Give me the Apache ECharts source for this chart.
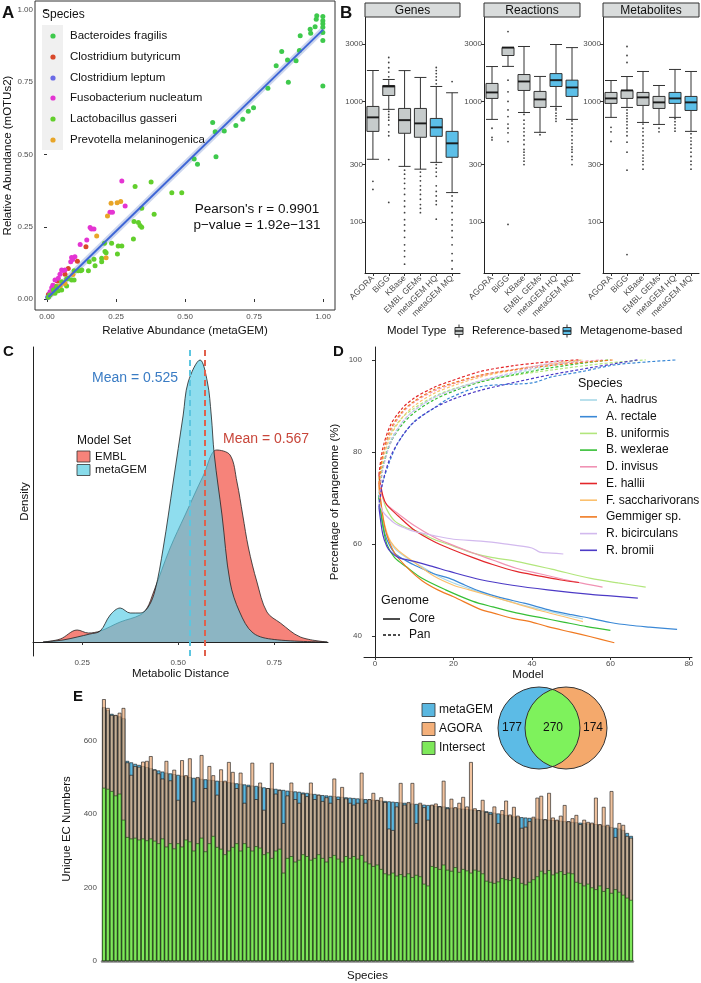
<!DOCTYPE html>
<html><head><meta charset="utf-8">
<script src="https://cdn.jsdelivr.net/npm/echarts@6/dist/echarts.min.js"></script>
<style>html,body{margin:0;padding:0;background:#fff}#c{width:701px;height:983px}</style>
</head><body><div id="c"></div><script>
const FF = "'Liberation Sans', Arial, Helvetica, sans-serif";

// ---------- Panel A data ----------
const speciesA = ['Bacteroides fragilis','Clostridium butyricum','Clostridium leptum','Fusobacterium nucleatum','Lactobacillus gasseri','Prevotella melaninogenica'];
const colorsA = ['#3ec94c','#d8482a','#6a6ae6','#e434d2','#62cf2c','#e8a528'];
const ptsFragilis = [[0.977,0.980],[0.999,0.977],[0.999,0.963],[0.999,0.952],[0.999,0.940],[0.975,0.968],[0.971,0.942],[0.953,0.933],[0.955,0.919],[0.999,0.922],[0.999,0.894],[0.917,0.911],[0.999,0.737],[0.850,0.856],[0.830,0.807],[0.871,0.827],[0.902,0.824],[0.914,0.860],[0.874,0.750],[0.800,0.729],[0.748,0.662],[0.729,0.650],[0.709,0.622],[0.684,0.600],[0.642,0.581],[0.609,0.579],[0.600,0.611],[0.533,0.484],[0.545,0.466],[0.612,0.492]];
const ptsButyricum = [[0.141,0.181],[0.110,0.131],[0.077,0.106],[0.065,0.086],[0.037,0.062],[0.025,0.045],[0.017,0.020],[0.005,0.016]];
const ptsLeptum = [[0.005,0.008],[0.011,0.020],[0.002,0.006],[0.023,0.023],[0.035,0.033]];
const ptsNucleatum = [[0.271,0.408],[0.283,0.322],[0.228,0.300],[0.237,0.300],[0.156,0.247],[0.161,0.242],[0.170,0.242],[0.144,0.204],[0.120,0.189],[0.089,0.144],[0.093,0.137],[0.101,0.146],[0.086,0.129],[0.053,0.100],[0.058,0.099],[0.065,0.100],[0.047,0.086],[0.041,0.072],[0.029,0.066],[0.021,0.048],[0.017,0.039],[0.011,0.025]];
const ptsGasseri = [[0.377,0.405],[0.319,0.389],[0.452,0.368],[0.488,0.368],[0.343,0.314],[0.388,0.293],[0.315,0.268],[0.331,0.265],[0.337,0.254],[0.343,0.248],[0.313,0.208],[0.271,0.183],[0.258,0.183],[0.255,0.156],[0.208,0.193],[0.234,0.193],[0.210,0.164],[0.214,0.160],[0.198,0.141],[0.198,0.129],[0.174,0.115],[0.150,0.098],[0.170,0.138],[0.122,0.098],[0.153,0.129],[0.098,0.098],[0.071,0.069],[0.089,0.066],[0.076,0.072],[0.053,0.060],[0.035,0.043],[0.023,0.031],[0.011,0.014],[0.005,0.006],[0.041,0.029],[0.029,0.020],[0.113,0.098],[0.098,0.066],[0.071,0.045],[0.053,0.031],[0.126,0.100]];
const ptsMelaninogenica = [[0.232,0.331],[0.219,0.287],[0.180,0.218],[0.214,0.143],[0.267,0.337],[0.254,0.333],[0.065,0.054],[0.048,0.046],[0.094,0.085]];
const fitLine = [[0.005,0.007],[1.0,0.932]];
const ticksA = [0, 0.25, 0.5, 0.75, 1];

// ---------- Panel B data ----------
const bCats = ['AGORA','BiGG','KBase','EMBL GEMs','metaGEM HQ','metaGEM MQ'];
const bTypes = ['ref','ref','ref','ref','meta','meta'];
const bTicks = [100, 300, 1000, 3000];
const genesBox = [[332,565,738,909,1803],[860,1120,1330,1355,1520],[290,545,700,875,1800],[275,505,658,875,1580],[313,514,610,723,1330],[176,345,450,565,1180]];
const genesOut = [[218,187],[1600,1750,1900,2100,2310,827,780,740,700,640,560,520,330,146],[270,250,230,210,190,170,150,135,120,105,95,85,75,65,58,52,45],[260,240,220,200,185,170,155,140,130,120],[1400,1500,1600,1700,1800,1910,300,280,260,240,200,180,165,150,140,106],[1460,165,150,135,120,105,95,85,75,65,55,48,41]];
const reactionsBox = [[710,1059,1187,1409,1945],[1950,2400,2790,2794,2800],[810,1233,1463,1670,2850],[555,892,1039,1210,1610],[909,1330,1500,1700,2960],[710,1100,1305,1500,2790]];
const reactionsOut = [[600,504,480],[3790,1500,1200,1000,850,750,650,600,550,465,96],[780,700,650,600,560,520,480,440,400,380,360,340,320,300],[530],[880,850,800,760,720,684],[690,650,600,560,520,480,450,420,400,380,350,330,300]];
const metabolitesBox = [[738,963,1059,1187,1490],[892,1059,1233,1233,1608],[670,927,1080,1187,1770],[645,875,982,1100,1355],[738,963,1059,1187,1840],[565,842,982,1100,1770]];
const metabolitesOut = [[610,560,467],[2100,2400,2850,850,800,760,720,680,640,600,560,520,460,380,270,54],[650,600,560,520,480,450,420,390,360,340,320,300,275],[600,560],[720,680,640,600,567],[540,500,470,440,410,380,350,320,300,275]];
const facetNames = ['Genes','Reactions','Metabolites'];

// ---------- Panel C data ----------
const densMetaGEM = [[0.148,0],[0.2,0.04],[0.237,0.1],[0.27,0.16],[0.297,0.22],[0.323,0.54],[0.349,0.68],[0.375,0.58],[0.401,0.58],[0.422,0.7],[0.44,1.04],[0.461,1.88],[0.487,3.2],[0.513,4.54],[0.526,5.2],[0.557,5.64],[0.576,5.2],[0.586,4.54],[0.594,3.74],[0.614,2.54],[0.635,1.2],[0.66,0.6],[0.695,0.18],[0.75,0.05],[0.888,0]];
const densEMBL = [[0.148,0],[0.193,0.06],[0.237,0.24],[0.266,0.18],[0.297,0.22],[0.349,0.4],[0.401,0.54],[0.419,0.68],[0.435,0.98],[0.479,1.88],[0.518,2.54],[0.566,3.34],[0.60,3.84],[0.635,3.74],[0.653,3.2],[0.668,2.54],[0.683,1.88],[0.705,1.2],[0.731,0.6],[0.766,0.38],[0.818,0.1],[0.888,0]];
const meanMetaGEM = 0.525, meanEMBL = 0.567;
const ticksC = [0.25, 0.5, 0.75];

// ---------- Panel D data ----------
const speciesD = ['A. hadrus','A. rectale','B. uniformis','B. wexlerae','D. invisus','E. hallii','F. saccharivorans','Gemmiger sp.','R. bicirculans','R. bromii'];
const colorsD = ['#a8d8e8','#3a88d6','#b2e67c','#36bf36','#f092b4','#e3262a','#fbc06e','#f07a22','#d2b9ee','#4c3ac6'];
const coreD = [
 [[1,71],[2,65],[3,62],[5,59],[8,57],[12,55],[16,53],[20,51.5],[25,50],[30,48.5],[35,47.3],[40,46.2],[45,45.2],[50,44.2],[53,43.7]],
 [[1,70],[2,64],[3,61],[5,58],[8,56.3],[10,55.4],[15,53.5],[19,52.5],[23,51],[27,49.6],[32,48.3],[38,47.1],[45,45.5],[50,44.6],[55,43.8],[60,42.9],[65,42.3],[70,41.9],[77,41.4]],
 [[1,74],[2,70],[3,67.5],[5,65],[8,63.5],[10,63],[15,61],[20,59.5],[25,58],[30,57],[36,56.2],[45,54.5],[55,52.5],[62,51.5],[69,50.6]],
 [[1,70],[2,64],[3,60],[5,57],[8,55],[12,52.5],[18,50],[25,47.5],[30,46.3],[36,45],[42,44],[48,43],[54,42],[60,41.2]],
 [[1,73],[2,70],[3,68.5],[6,66.5],[10,64],[15,61.5],[19,60],[25,58],[30,56.5],[36,54.7],[42,53.5],[48,52.3],[53,51.4],[58,50.6]],
 [[1,75],[2,70.5],[3,68.5],[6,66],[10,63],[15,60.5],[19,59],[25,57],[30,55.5],[36,54],[42,53],[47,52.2],[52,51.6]],
 [[1,72],[2,66],[3,62.5],[4,60.5],[6,58.5],[10,56],[15,53],[20,51],[24,50],[30,48.5],[36,47],[42,45.5],[48,44.2],[53,43.1]],
 [[1,73],[2,66],[3,62],[5,58],[8,55],[12,52],[16,50],[20,48.5],[27,45.7],[30,45],[35,43.8],[40,43],[44,42],[50,40.8],[55,39.8],[61,38.5]],
 [[1,69],[2,67],[3,66],[5,64.5],[8,63.3],[10,62.7],[15,61.8],[20,61],[27,60.6],[33,60],[40,59.1],[42,58.2],[45,58],[48,57.8]],
 [[1,68],[2,62],[3,59.5],[4,58.3],[6,57],[10,56.2],[15,55],[19,54],[27,52.2],[35,51],[44,50],[55,49],[60,48.7],[67,48.2]]
];
const panD = [
 [[1,71],[2,77],[4,82.5],[7,86.5],[10,89],[15,91.8],[20,93.6],[27,95.5],[35,97],[45,98.8],[53,100]],
 [[1,70],[2,73.5],[4,78.5],[6,82.2],[10,86.6],[15,89.5],[19,91.7],[27,94.2],[40,95],[45,96.3],[53,97.5],[61,98.9],[70,99.6],[77,100]],
 [[1,74],[2,79],[4,84],[7,87.5],[10,89.5],[15,92],[20,93.7],[27,95.3],[35,96.6],[45,97.8],[55,98.9],[63,99.6],[69,100]],
 [[1,70],[2,76.5],[4,82],[7,86],[10,88.5],[15,91.3],[20,93.2],[27,95.2],[35,96.7],[45,98.3],[53,99.3],[60,100]],
 [[1,73],[2,79],[4,84.5],[7,88.5],[10,90.8],[15,93.2],[20,94.8],[27,96.6],[35,97.9],[45,99.1],[52,99.6],[58,100]],
 [[1,75],[2,80.8],[4,85.9],[7,89.5],[10,91.7],[15,94],[19,95.3],[27,97.5],[35,98.7],[42,99.4],[48,99.8],[52,100]],
 [[1,72],[2,78],[4,83.5],[7,87.5],[10,90],[15,92.7],[20,94.4],[27,96.3],[35,97.7],[45,99.2],[53,100]],
 [[1,73],[2,79.5],[4,85],[7,88.8],[10,91],[15,93.5],[20,95],[27,96.7],[35,97.8],[45,98.8],[55,99.6],[61,100]],
 [[1,69],[2,76],[4,82],[7,86.5],[10,89],[15,91.8],[20,93.5],[27,95.5],[35,97.2],[42,98.8],[48,100]],
 [[1,68],[2,73.5],[4,79],[7,83.5],[10,86.5],[15,89.5],[20,91.5],[27,93.4],[35,95],[45,96.8],[55,98.3],[62,99.3],[67,100]]
];
const ticksDx = [0, 20, 40, 60, 80];
const ticksDy = [40, 60, 80, 100];

// ---------- Panel E data ----------
const metaGEM = [690,682,672,668,665,660,
 544,540,536,533,530,527,524,521,518,515,
 512,510,508,506,504,502,500,498,497,495,
 494,493,492,490,489,487,486,485,483,482,
 480,479,477,476,474,472,470,469,468,466,
 465,463,462,461,460,458,457,455,454,452,
 451,450,449,448,447,446,445,444,443,442,
 441,440,439,438,437,436,435,434,433,432,
 431,430,429,428,427,426,425,424,423,422,
 421,420,418,417,416,415,414,413,412,411,
 410,409,407,405,403,401,399,397,395,393,
 392,391,390,389,388,387,386,385,384,383,
 382,381,380,379,378,377,376,375,374,373,
 372,370,368,366,364,362,360,356,348,340];
const agora = [712,688,669,669,675,688,
 540,506,530,528,542,544,557,520,510,496,
 544,491,520,438,546,505,551,434,500,560,
 470,530,505,452,521,490,541,514,470,512,
 430,475,539,440,485,411,470,539,455,465,
 375,450,485,440,430,455,448,485,440,452,
 435,445,430,496,440,473,442,430,425,430,
 512,430,440,457,438,445,432,360,356,420,
 484,425,432,484,375,430,418,384,425,428,
 420,490,415,441,418,430,446,420,541,415,
 410,438,405,400,420,375,410,436,398,419,
 395,362,365,380,392,444,449,385,457,390,
 384,395,424,380,388,397,372,384,378,376,
 444,372,419,370,462,337,375,370,340,335];
const intersect = [471,468,462,450,455,384,
 337,333,335,330,333,328,333,327,320,333,
 311,320,306,320,311,330,325,300,320,335,
 298,320,340,310,305,290,300,310,320,300,
 320,310,300,312,308,290,295,280,300,305,
 240,280,285,270,275,290,285,275,280,290,
 280,270,282,288,278,270,285,280,285,278,
 288,270,265,258,262,250,238,235,240,232,
 236,230,238,228,234,230,210,205,258,255,
 250,262,248,245,255,242,250,246,240,248,
 245,238,218,215,212,216,225,222,220,228,
 225,212,208,215,222,230,245,238,247,235,
 240,244,236,240,238,215,212,205,210,200,
 195,205,190,198,185,195,188,180,172,166];
const speciesE = metaGEM.map((_, i) => 'Species ' + (i + 1));
const ticksE = [0, 200, 400, 600];
const vennCounts = [177, 270, 174];

// ---------- helpers ----------
const tickLbl = {fontSize: 8, color: '#4d4d4d', fontFamily: FF};
function T(x, y, text, o) {
  o = o || {};
  return {type: 'text', x: x, y: y, rotation: o.rot || 0, z: 100,
    style: {text: text, fill: o.color || '#111', fontSize: o.size || 12, fontFamily: FF,
      fontWeight: o.weight || 'normal', align: o.align || 'left', verticalAlign: o.va || 'middle'}};
}
function R(x, y, w, h, fill, stroke, lw) {
  return {type: 'rect', z: 90, shape: {x: x, y: y, width: w, height: h},
    style: {fill: fill, stroke: stroke || null, lineWidth: lw || 1}};
}
function L(x1, y1, x2, y2, stroke, lw, dash) {
  return {type: 'line', z: 95, shape: {x1: x1, y1: y1, x2: x2, y2: y2},
    style: {stroke: stroke, lineWidth: lw || 1, lineDash: dash || null}};
}

const GRAYBOX = '#c6cbcb', BLUEBOX = '#5cbfe8';

// ---------- axes ----------
const xAxes = [], yAxes = [], series = [];
// A
xAxes.push({gridIndex: 0, type: 'value', min: -0.0435, max: 1.043,
  axisLine: {show: false}, splitLine: {show: false},
  axisTick: {show: true, length: 3, lineStyle: {color: '#333'}, customValues: ticksA},
  axisLabel: Object.assign({margin: 3, customValues: ticksA, formatter: v => v.toFixed(2)}, tickLbl),
  name: 'Relative Abundance (metaGEM)', nameLocation: 'middle', nameGap: 15,
  nameTextStyle: {fontSize: 11.5, color: '#111', fontFamily: FF}});
yAxes.push({gridIndex: 0, type: 'value', min: -0.038, max: 1.031,
  axisLine: {show: false}, splitLine: {show: false},
  axisTick: {show: true, length: 3, lineStyle: {color: '#333'}, customValues: ticksA},
  axisLabel: Object.assign({margin: 2, customValues: ticksA, formatter: v => v.toFixed(2)}, tickLbl),
  name: 'Relative Abundance (mOTUs2)', nameLocation: 'middle', nameGap: 21,
  nameTextStyle: {fontSize: 11.5, color: '#111', fontFamily: FF}});
// B facets
const bBoxes = [genesBox, reactionsBox, metabolitesBox];
const bOuts = [genesOut, reactionsOut, metabolitesOut];
const bLogTicks = bTicks.map(v => Math.log10(v));
for (let f = 0; f < 3; f++) {
  const gi = 1 + f;
  xAxes.push({gridIndex: gi, type: 'category', data: bCats,
    axisLine: {show: true, lineStyle: {color: '#222', width: 1}},
    axisTick: {show: true, length: 3, alignWithLabel: true, lineStyle: {color: '#333'}},
    axisLabel: Object.assign({rotate: 45, interval: 0, margin: 4}, tickLbl, {fontSize: 8.5})});
  yAxes.push({gridIndex: gi, type: 'value', min: Math.log10(38), max: Math.log10(5000),
    axisLine: {show: true, lineStyle: {color: '#222', width: 1}}, splitLine: {show: false},
    axisTick: {show: true, length: 3, lineStyle: {color: '#333'}, customValues: bLogTicks},
    axisLabel: Object.assign({margin: 2, customValues: bLogTicks, formatter: v => String(Math.round(Math.pow(10, v)))}, tickLbl)});
  series.push({type: 'boxplot', xAxisIndex: gi, yAxisIndex: gi, boxWidth: [12, 12],
    itemStyle: {borderColor: '#333', borderWidth: 1},
    data: bBoxes[f].map((b, j) => ({value: b.map(v => Math.log10(v)),
      itemStyle: {color: bTypes[j] === 'ref' ? GRAYBOX : BLUEBOX, borderColor: '#333'}}))});
  series.push({type: 'scatter', xAxisIndex: gi, yAxisIndex: gi, symbol: 'rect', symbolSize: [12, 2],
    itemStyle: {color: '#111'}, z: 5,
    data: bBoxes[f].map((b, j) => [j, Math.log10(b[2])])});
  const outs = [];
  bOuts[f].forEach((arr, j) => arr.forEach(v => outs.push([j, Math.log10(v)])));
  series.push({type: 'scatter', xAxisIndex: gi, yAxisIndex: gi, symbolSize: 1.8,
    itemStyle: {color: '#111'}, data: outs});
}
// C
xAxes.push({gridIndex: 4, type: 'value', min: 0.122, max: 0.89,
  axisLine: {show: true, lineStyle: {color: '#222'}}, splitLine: {show: false},
  axisTick: {show: true, length: 3, lineStyle: {color: '#333'}, customValues: ticksC},
  axisLabel: Object.assign({margin: 3, customValues: ticksC, formatter: v => v.toFixed(2)}, tickLbl),
  name: 'Metabolic Distance', nameLocation: 'middle', nameGap: 12,
  nameTextStyle: {fontSize: 11.5, color: '#111', fontFamily: FF}});
yAxes.push({gridIndex: 4, type: 'value', min: -0.28, max: 5.9,
  axisLine: {show: true, lineStyle: {color: '#222'}}, splitLine: {show: false},
  axisTick: {show: false}, axisLabel: {show: false},
  name: 'Density', nameLocation: 'middle', nameGap: 2,
  nameTextStyle: {fontSize: 11.5, color: '#111', fontFamily: FF}});
series.push({type: 'line', xAxisIndex: 4, yAxisIndex: 4, data: densEMBL, smooth: 0.35, showSymbol: false,
  lineStyle: {color: '#222', width: 0.8}, areaStyle: {color: '#f6837a', opacity: 1}, z: 2,
  markLine: {silent: true, symbol: 'none', label: {show: false},
    lineStyle: {type: [6, 4], color: '#e0604c', width: 2}, data: [{xAxis: meanEMBL}]}});
series.push({type: 'line', xAxisIndex: 4, yAxisIndex: 4, data: densMetaGEM, smooth: 0.35, showSymbol: false,
  lineStyle: {color: '#222', width: 0.8}, areaStyle: {color: '#5acde6', opacity: 0.68}, z: 3,
  markLine: {silent: true, symbol: 'none', label: {show: false},
    lineStyle: {type: [6, 4], color: '#5cc6e0', width: 2}, data: [{xAxis: meanMetaGEM}]}});
// D
xAxes.push({gridIndex: 5, type: 'value', min: -2.8, max: 80.8,
  axisLine: {show: true, lineStyle: {color: '#222'}}, splitLine: {show: false},
  axisTick: {show: true, length: 3, lineStyle: {color: '#333'}, customValues: ticksDx},
  axisLabel: Object.assign({margin: 3, customValues: ticksDx}, tickLbl),
  name: 'Model', nameLocation: 'middle', nameGap: 11,
  nameTextStyle: {fontSize: 11.5, color: '#111', fontFamily: FF}});
yAxes.push({gridIndex: 5, type: 'value', min: 35.4, max: 102.8,
  axisLine: {show: true, lineStyle: {color: '#222'}}, splitLine: {show: false},
  axisTick: {show: true, length: 3, lineStyle: {color: '#333'}, customValues: ticksDy},
  axisLabel: Object.assign({margin: 2, customValues: ticksDy}, tickLbl),
  name: 'Percentage of pangenome (%)', nameLocation: 'middle', nameGap: 23,
  nameTextStyle: {fontSize: 11.5, color: '#111', fontFamily: FF}});
for (let i = 0; i < speciesD.length; i++) {
  series.push({type: 'line', xAxisIndex: 5, yAxisIndex: 5, data: coreD[i], smooth: 0.3, showSymbol: false,
    lineStyle: {color: colorsD[i], width: 1.2}});
  series.push({type: 'line', xAxisIndex: 5, yAxisIndex: 5, data: panD[i], smooth: 0.3, showSymbol: false,
    lineStyle: {color: colorsD[i], width: 1.2, type: [3, 2]}});
}
// E
xAxes.push({gridIndex: 6, type: 'category', data: speciesE, offset: 3,
  axisLine: {show: true, lineStyle: {color: '#8a8a8a', width: 2.5}},
  axisTick: {show: false}, axisLabel: {show: false},
  name: 'Species', nameLocation: 'middle', nameGap: 6,
  nameTextStyle: {fontSize: 11.5, color: '#111', fontFamily: FF}});
yAxes.push({gridIndex: 6, type: 'value', min: 0, max: 718,
  axisLine: {show: false}, axisTick: {show: false}, splitLine: {show: false},
  axisLabel: Object.assign({margin: 5, customValues: ticksE}, tickLbl),
  name: 'Unique EC Numbers', nameLocation: 'middle', nameGap: 19,
  nameTextStyle: {fontSize: 11.5, color: '#111', fontFamily: FF}});
const barCommon = {type: 'bar', xAxisIndex: 6, yAxisIndex: 6, barGap: '-100%', barCategoryGap: '6%'};
series.push(Object.assign({}, barCommon, {name: 'metaGEM', data: metaGEM, z: 2,
  itemStyle: {color: '#5ab7e0', borderColor: '#111', borderWidth: 0.6}}));
series.push(Object.assign({}, barCommon, {name: 'AGORA', data: agora, z: 3,
  itemStyle: {color: 'rgba(236,172,122,0.72)', borderColor: '#111', borderWidth: 0.6}}));
series.push(Object.assign({}, barCommon, {name: 'Intersect', data: intersect, z: 4,
  itemStyle: {color: '#7ee85a', borderColor: '#1a3a10', borderWidth: 0.6}}));
// A scatter
const ptsA = [ptsFragilis, ptsButyricum, ptsLeptum, ptsNucleatum, ptsGasseri, ptsMelaninogenica];
series.push({type: 'line', xAxisIndex: 0, yAxisIndex: 0, data: fitLine, showSymbol: false,
  lineStyle: {color: '#b8c4e6', width: 6, opacity: 0.7}, z: 2});
ptsA.forEach((pts, i) => series.push({type: 'scatter', xAxisIndex: 0, yAxisIndex: 0, data: pts,
  symbolSize: 5, itemStyle: {color: colorsA[i], opacity: 1}, z: 3}));
series.push({type: 'line', xAxisIndex: 0, yAxisIndex: 0, data: fitLine, showSymbol: false,
  lineStyle: {color: '#3e66d6', width: 2}, z: 4});

// ---------- graphics ----------
const g = [];
g.push(T(2, 13, 'A', {size: 17, weight: 'bold'}));
g.push(T(340, 13, 'B', {size: 17, weight: 'bold'}));
g.push(T(3, 352, 'C', {size: 15, weight: 'bold'}));
g.push(T(333, 352, 'D', {size: 15, weight: 'bold'}));
g.push(T(73, 697, 'E', {size: 15, weight: 'bold'}));
// A legend
g.push(R(42, 25, 21, 125, '#f0f0f0'));
g.push(T(42, 15, 'Species', {size: 12}));
const legYA = [36, 57, 78, 98, 119, 140];
speciesA.forEach((s, i) => {
  g.push({type: 'circle', z: 95, shape: {cx: 53, cy: legYA[i], r: 2.6}, style: {fill: colorsA[i]}});
  g.push(T(70, legYA[i], s, {size: 11.5}));
});
g.push(T(257, 209, "Pearson's r = 0.9901", {size: 13.5, align: 'center'}));
g.push(T(257, 225, 'p\u2212value = 1.92e\u2212131', {size: 13.5, align: 'center'}));
// B strips
[[365, 95], [484, 96], [603, 96]].forEach((p, f) => {
  g.push(R(p[0], 3, p[1], 14, '#d9dcdc', '#333', 1));
  g.push(T(p[0] + p[1] / 2, 10.5, facetNames[f], {size: 12, align: 'center'}));
});
// B legend
g.push(T(387, 331, 'Model Type', {size: 11.5}));
function boxKey(x, fill) {
  g.push(L(x + 4, 324.5, x + 4, 327.5, '#333', 1));
  g.push(L(x + 4, 334.5, x + 4, 337.5, '#333', 1));
  g.push(R(x, 327.5, 8, 7, fill, '#333', 1));
  g.push(L(x, 331, x + 8, 331, '#111', 1.3));
}
boxKey(455, GRAYBOX);
g.push(T(472, 331, 'Reference-based', {size: 11.5}));
boxKey(563, BLUEBOX);
g.push(T(580, 331, 'Metagenome-based', {size: 11.5}));
// C legend & labels
g.push(T(77, 441, 'Model Set', {size: 12}));
g.push(R(77, 451, 13, 11, '#f6837a', '#333', 0.8));
g.push(T(95, 456.5, 'EMBL', {size: 11.5}));
g.push(R(77, 464.5, 13, 11, '#88dbea', '#333', 0.8));
g.push(T(95, 470, 'metaGEM', {size: 11.5}));
g.push(T(135, 378, 'Mean = 0.525', {size: 14, color: '#3a7cc4', align: 'center'}));
g.push(T(266, 439, 'Mean = 0.567', {size: 14, color: '#c8463a', align: 'center'}));
// D legends
g.push(T(578, 384, 'Species', {size: 12.5}));
speciesD.forEach((s, i) => {
  const y = 400 + i * 16.7;
  g.push(L(580, y, 597, y, colorsD[i], 1.6));
  g.push(T(606, y, s, {size: 12}));
});
g.push(T(381, 601, 'Genome', {size: 12.5}));
g.push(L(383, 619, 400, 619, '#111', 1.5));
g.push(T(409, 619, 'Core', {size: 12}));
g.push(L(383, 635, 400, 635, '#111', 1.5, [3, 2]));
g.push(T(409, 635, 'Pan', {size: 12}));
// E legend
[['metaGEM', '#5ab7e0', 703.5], ['AGORA', '#f4b07a', 722.5], ['Intersect', '#7ee85a', 741.5]].forEach(it => {
  g.push(R(422, it[2], 13, 13, it[1], '#333', 0.8));
  g.push(T(439, it[2] + 6.5, it[0], {size: 12}));
});
// Venn
const vc1 = 539, vc2 = 566, vcy = 728, vr = 41;
g.push({type: 'circle', z: 90, shape: {cx: vc1, cy: vcy, r: vr}, style: {fill: '#5cbbe6'}});
g.push({type: 'circle', z: 90, shape: {cx: vc2, cy: vcy, r: vr}, style: {fill: '#f4a96c'}});
const alpha = Math.acos(((vc2 - vc1) / 2) / vr);
const lens = [];
for (let k = 0; k <= 40; k++) { const t = -alpha + 2 * alpha * k / 40; lens.push([vc1 + vr * Math.cos(t), vcy + vr * Math.sin(t)]); }
for (let k = 0; k <= 40; k++) { const t = Math.PI - alpha + 2 * alpha * k / 40; lens.push([vc2 + vr * Math.cos(t), vcy + vr * Math.sin(t)]); }
g.push({type: 'polygon', z: 91, shape: {points: lens}, style: {fill: '#7ef25c'}});
g.push({type: 'circle', z: 92, shape: {cx: vc1, cy: vcy, r: vr}, style: {fill: null, stroke: '#333', lineWidth: 1}});
g.push({type: 'circle', z: 92, shape: {cx: vc2, cy: vcy, r: vr}, style: {fill: null, stroke: '#333', lineWidth: 1}});
g.push(T(512, vcy, String(vennCounts[0]), {size: 12, align: 'center'}));
g.push(T(553, vcy, String(vennCounts[1]), {size: 12, align: 'center'}));
g.push(T(593, vcy, String(vennCounts[2]), {size: 12, align: 'center'}));

const option = {
  animation: false,
  textStyle: {fontFamily: FF},
  grid: [
    {left: 35, top: 1, width: 300, height: 309, show: true, borderColor: '#333', borderWidth: 1, backgroundColor: 'transparent'},
    {left: 365, top: 17, width: 95, height: 256},
    {left: 484, top: 17, width: 96, height: 256},
    {left: 603, top: 17, width: 96, height: 256},
    {left: 33, top: 347, width: 295, height: 309},
    {left: 364, top: 347, width: 328, height: 310},
    {left: 102, top: 697, width: 531, height: 264}
  ],
  xAxis: xAxes, yAxis: yAxes, series: series, graphic: {elements: g}
};
const chart = echarts.init(document.getElementById('c'), null, {renderer: 'canvas'});
chart.setOption(option);
</script></body></html>
